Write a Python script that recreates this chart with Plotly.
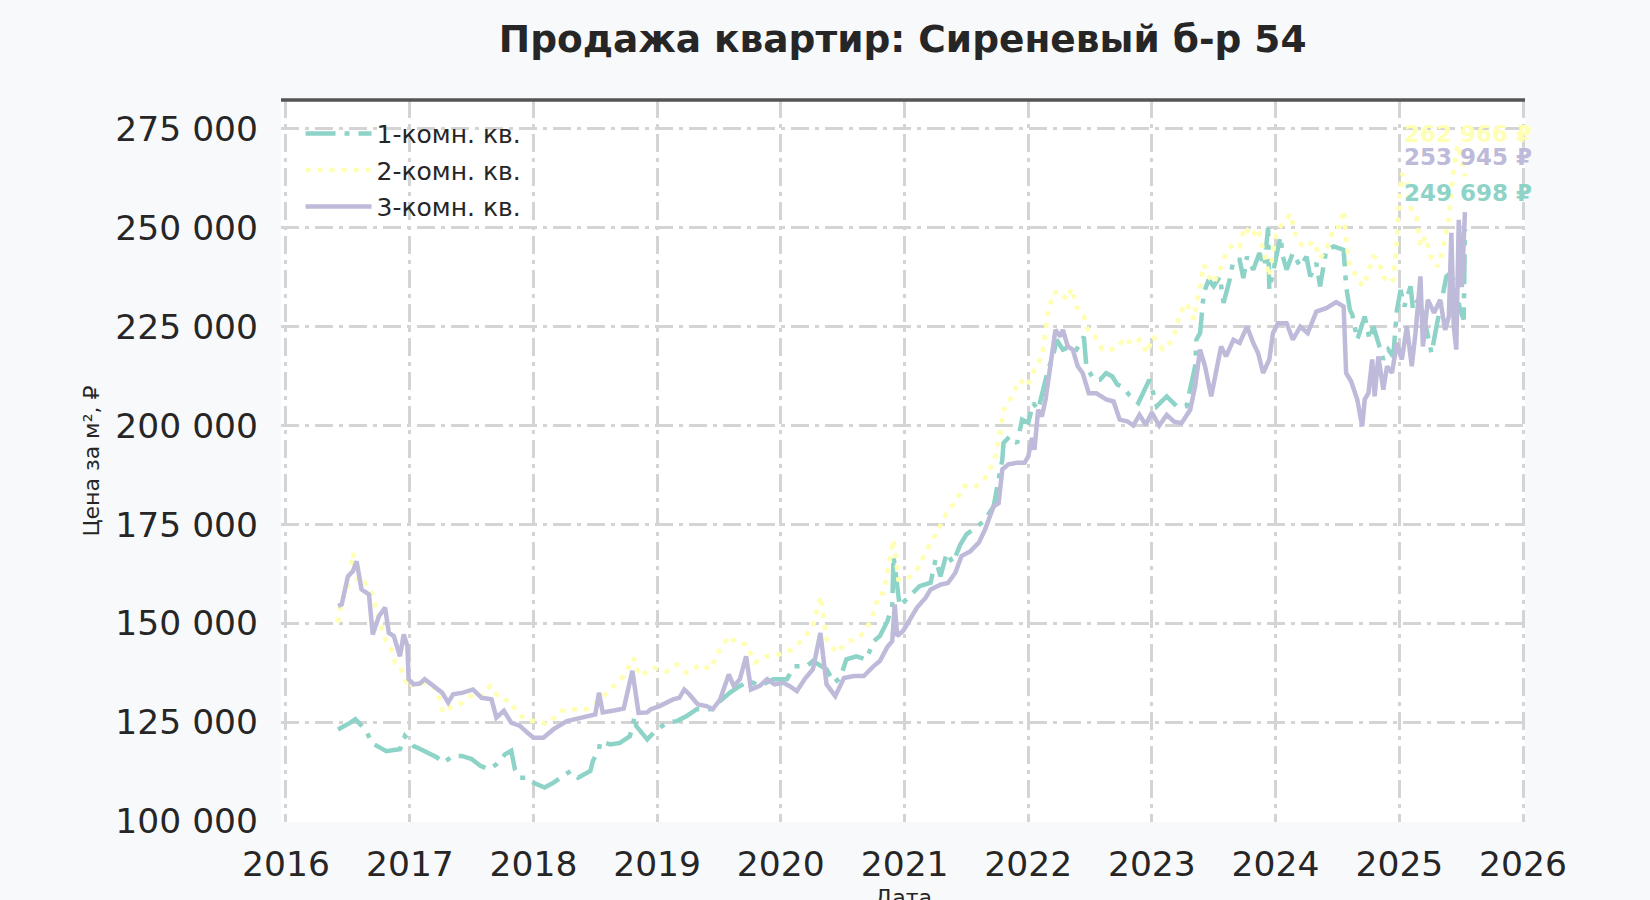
import pandas as pd
import plotly.graph_objects as go

TITLE = "Продажа квартир: Сиреневый б-р 54"
X_TITLE = "Дата"
Y_TITLE = "Цена за м², ₽"
NAMES = ["1-комн. кв.", "2-комн. кв.", "3-комн. кв."]
COLORS = ["#8dd3c7", "#ffffb3", "#bebada"]
Y_TICKS = [100000, 125000, 150000, 175000, 200000, 225000, 250000, 275000]
LAST_LABELS = ["249 698 ₽", "262 966 ₽", "253 945 ₽"]

# ---- 1-комн. кв. (decimal year, ₽ per m²)
t1 = [2016.42, 2016.48, 2016.52, 2016.56, 2016.61, 2016.65, 2016.69, 2016.76, 2016.81, 2016.87,
      2016.92, 2016.96, 2017.00, 2017.03, 2017.08, 2017.14, 2017.22, 2017.27, 2017.35, 2017.42,
      2017.50, 2017.57, 2017.64, 2017.70, 2017.77, 2017.82, 2017.85, 2017.89, 2017.95, 2018.00,
      2018.09, 2018.16, 2018.24, 2018.30, 2018.36, 2018.46, 2018.48, 2018.53, 2018.54, 2018.62,
      2018.70, 2018.78, 2018.82, 2018.83, 2018.92, 2019.00, 2019.08, 2019.16, 2019.24, 2019.32,
      2019.43, 2019.48, 2019.51, 2019.59, 2019.67, 2019.75, 2019.83, 2019.94, 2020.05, 2020.11,
      2020.21, 2020.26, 2020.37, 2020.43, 2020.48, 2020.53, 2020.61, 2020.69, 2020.75, 2020.80,
      2020.86, 2020.90, 2020.91, 2020.94, 2020.96, 2021.04, 2021.12, 2021.21, 2021.25, 2021.29,
      2021.34, 2021.39, 2021.45, 2021.50, 2021.58, 2021.64, 2021.72, 2021.79, 2021.80, 2021.85,
      2021.91, 2021.95, 2022.00, 2022.04, 2022.08, 2022.12, 2022.16, 2022.20, 2022.23, 2022.28,
      2022.34, 2022.39, 2022.45, 2022.47, 2022.53, 2022.58, 2022.63, 2022.68, 2022.72, 2022.77,
      2022.82, 2022.89, 2022.93, 2022.98, 2023.04, 2023.12, 2023.20, 2023.28, 2023.35, 2023.36,
      2023.39, 2023.42, 2023.46, 2023.50, 2023.55, 2023.58, 2023.63, 2023.66, 2023.71, 2023.74,
      2023.77, 2023.82, 2023.87, 2023.91, 2023.94, 2023.95, 2023.99, 2024.02, 2024.04, 2024.06,
      2024.09, 2024.14, 2024.20, 2024.25, 2024.28, 2024.33, 2024.36, 2024.41, 2024.47, 2024.55,
      2024.57, 2024.60, 2024.62, 2024.66, 2024.68, 2024.72, 2024.76, 2024.79, 2024.83, 2024.87,
      2024.91, 2024.95, 2024.98, 2025.01, 2025.04, 2025.09, 2025.11, 2025.15, 2025.19, 2025.26,
      2025.30, 2025.34, 2025.38, 2025.41, 2025.45, 2025.49, 2025.52, 2025.53]
v1 = [123200, 124100, 124900, 125800, 124100, 122800, 119800, 118600, 117700, 118000,
      118200, 121500, 119800, 119000, 118300, 117300, 116100, 114800, 116500, 116500,
      115700, 114000, 113100, 114400, 116900, 117800, 113100, 111000, 111000, 109700,
      108500, 109700, 111400, 112700, 111000, 112700, 115200, 118200, 120200, 119400,
      119800, 121500, 126600, 124100, 120700, 123200, 124900, 125300, 126600, 128300,
      128300, 130000, 130400, 132500, 134200, 135400, 134200, 135900, 135900, 139200,
      139200, 140500, 138400, 135000, 136200, 140900, 141700, 140900, 145500, 146800,
      150500, 154400, 167000, 160300, 154400, 156900, 159400, 160300, 166200, 161900,
      167800, 165300, 169900, 172500, 174500, 175800, 179600, 191400, 195600, 197300,
      195600, 201500, 200700, 205700, 204000, 209100, 214100, 217500, 221700, 219200,
      220000, 219200, 222500, 215000, 211600, 211600, 213300, 212400, 210400, 209700,
      207600, 205700, 208200, 211600, 204900, 207400, 204900, 204900, 215000, 221700,
      223400, 233500, 236900, 235200, 237700, 231000, 236900, 241900, 241900, 237300,
      242700, 239400, 243600, 240200, 250000, 234300, 240200, 244400, 247800, 242700,
      239400, 243600, 240200, 242700, 237700, 241100, 235200, 244400, 245300, 244400,
      235200, 229300, 228000, 221700, 223400, 227600, 221700, 225100, 220900, 216700,
      219200, 217500, 229300, 234300, 230100, 235200, 229300, 231800, 228500, 218300,
      225100, 231800, 237700, 238500, 236000, 229300, 226800, 249698]

# ---- 2-комн. кв.
t2 = [2016.42, 2016.45, 2016.49, 2016.54, 2016.58, 2016.63, 2016.67, 2016.70, 2016.76, 2016.81,
      2016.85, 2016.88, 2016.92, 2016.99, 2017.06, 2017.11, 2017.19, 2017.24, 2017.27, 2017.34,
      2017.43, 2017.51, 2017.58, 2017.65, 2017.73, 2017.81, 2017.87, 2017.95, 2018.03, 2018.11,
      2018.22, 2018.32, 2018.43, 2018.51, 2018.58, 2018.65, 2018.73, 2018.81, 2018.86, 2018.97,
      2019.08, 2019.16, 2019.24, 2019.35, 2019.43, 2019.50, 2019.58, 2019.64, 2019.72, 2019.79,
      2019.89, 2019.99, 2020.09, 2020.18, 2020.26, 2020.32, 2020.37, 2020.45, 2020.53, 2020.64,
      2020.69, 2020.75, 2020.79, 2020.83, 2020.91, 2020.95, 2021.02, 2021.10, 2021.18, 2021.26,
      2021.34, 2021.42, 2021.48, 2021.56, 2021.64, 2021.72, 2021.77, 2021.80, 2021.87, 2021.93,
      2021.99, 2022.05, 2022.11, 2022.16, 2022.20, 2022.26, 2022.31, 2022.35, 2022.39, 2022.45,
      2022.49, 2022.54, 2022.60, 2022.66, 2022.72, 2022.78, 2022.84, 2022.90, 2022.96, 2023.01,
      2023.09, 2023.17, 2023.23, 2023.28, 2023.34, 2023.38, 2023.42, 2023.46, 2023.50, 2023.56,
      2023.60, 2023.66, 2023.71, 2023.75, 2023.81, 2023.86, 2023.90, 2023.95, 2024.00, 2024.04,
      2024.12, 2024.17, 2024.23, 2024.31, 2024.36, 2024.41, 2024.47, 2024.52, 2024.55, 2024.57,
      2024.60, 2024.66, 2024.70, 2024.74, 2024.79, 2024.83, 2024.87, 2024.91, 2024.95, 2024.98,
      2025.00, 2025.02, 2025.06, 2025.09, 2025.14, 2025.17, 2025.21, 2025.26, 2025.31, 2025.35,
      2025.40, 2025.44, 2025.47, 2025.50, 2025.53]
v2 = [150200, 156100, 157700, 167800, 160300, 160500, 159000, 156900, 150200, 145100,
      143400, 140000, 139200, 133700, 135400, 135000, 134200, 130800, 127400, 129100,
      130000, 132100, 131600, 134200, 130800, 130400, 127400, 125300, 125300, 124500,
      127800, 128300, 128300, 130000, 132000, 134200, 136700, 141300, 136700, 138800,
      137900, 139600, 137500, 139600, 138400, 143000, 146800, 145100, 144700, 140100,
      141700, 142200, 143400, 146000, 149300, 156900, 146000, 142600, 145100, 146800,
      148500, 152700, 157300, 157700, 171200, 161100, 161100, 163600, 168700, 172900,
      177900, 181300, 184700, 184200, 186400, 190600, 197300, 204000, 207400, 211600,
      209900, 214100, 217500, 228500, 233500, 233900, 231800, 234700, 230100, 227600,
      223400, 222500, 219200, 219200, 219600, 222200, 220500, 221700, 218300, 222500,
      219200, 221700, 228500, 231000, 226800, 233500, 240700, 237700, 236000, 240200,
      243600, 246100, 245300, 250300, 247800, 249900, 244400, 237700, 247800, 250300,
      253500, 247400, 245000, 246500, 242300, 244400, 250000, 250300, 254500, 246900,
      240200, 237700, 235200, 237700, 242700, 241900, 237700, 236000, 236900, 247000,
      258000, 263800, 261300, 255000, 252500, 245300, 247800, 241900, 240200, 244400,
      252500, 265500, 271000, 268000, 262966]

# ---- 3-комн. кв.
t3 = [2016.42, 2016.45, 2016.50, 2016.54, 2016.57, 2016.61, 2016.67, 2016.70, 2016.75, 2016.80,
      2016.83, 2016.87, 2016.92, 2016.95, 2016.98, 2016.99, 2017.03, 2017.08, 2017.12, 2017.19,
      2017.26, 2017.31, 2017.35, 2017.43, 2017.51, 2017.58, 2017.66, 2017.70, 2017.76, 2017.82,
      2017.89, 2017.95, 2018.00, 2018.08, 2018.16, 2018.27, 2018.35, 2018.43, 2018.50, 2018.53,
      2018.56, 2018.65, 2018.73, 2018.80, 2018.85, 2018.92, 2018.95, 2019.02, 2019.13, 2019.18,
      2019.22, 2019.26, 2019.33, 2019.40, 2019.45, 2019.51, 2019.58, 2019.62, 2019.67, 2019.72,
      2019.76, 2019.83, 2019.89, 2019.95, 2020.02, 2020.07, 2020.13, 2020.20, 2020.26, 2020.32,
      2020.37, 2020.44, 2020.51, 2020.59, 2020.67, 2020.75, 2020.80, 2020.86, 2020.90, 2020.92,
      2020.94, 2020.99, 2021.04, 2021.10, 2021.17, 2021.21, 2021.29, 2021.35, 2021.41, 2021.46,
      2021.53, 2021.60, 2021.65, 2021.72, 2021.76, 2021.79, 2021.84, 2021.91, 2021.97, 2022.00,
      2022.03, 2022.05, 2022.08, 2022.11, 2022.14, 2022.16, 2022.18, 2022.22, 2022.26, 2022.28,
      2022.32, 2022.36, 2022.40, 2022.44, 2022.49, 2022.55, 2022.63, 2022.69, 2022.74, 2022.80,
      2022.85, 2022.90, 2022.95, 2023.00, 2023.06, 2023.12, 2023.18, 2023.24, 2023.31, 2023.35,
      2023.39, 2023.43, 2023.48, 2023.52, 2023.56, 2023.60, 2023.66, 2023.71, 2023.77, 2023.82,
      2023.86, 2023.90, 2023.95, 2023.98, 2024.02, 2024.09, 2024.14, 2024.20, 2024.26, 2024.33,
      2024.41, 2024.49, 2024.55, 2024.57, 2024.61, 2024.66, 2024.70, 2024.72, 2024.75, 2024.78,
      2024.80, 2024.83, 2024.87, 2024.90, 2024.94, 2024.98, 2025.02, 2025.06, 2025.10, 2025.13,
      2025.17, 2025.19, 2025.23, 2025.28, 2025.33, 2025.37, 2025.40, 2025.42, 2025.44, 2025.46,
      2025.48, 2025.505, 2025.53]
v3 = [154400, 154800, 161900, 163200, 165700, 158600, 157300, 147200, 151800, 154000,
      147600, 146800, 141700, 147200, 144300, 135900, 134600, 134800, 135900, 134200,
      132500, 130000, 132100, 132500, 133300, 131200, 130800, 126200, 127900, 124900,
      124100, 122400, 121100, 121100, 123200, 125300, 125800, 126400, 127000, 132500,
      127500, 128000, 128500, 138000, 127400, 127500, 128300, 129100, 130800, 131200,
      133300, 132100, 129500, 129100, 128300, 130800, 137100, 134200, 135900, 141700,
      133300, 134200, 135900, 134600, 135000, 134200, 132900, 136200, 138400, 147600,
      134600, 131600, 136200, 136700, 136700, 139200, 140500, 144000, 145500, 154800,
      146800, 148200, 151000, 154000, 156500, 158600, 159800, 160200, 162800, 167000,
      168200, 170400, 173700, 179600, 180400, 188900, 190200, 190600, 190600, 192200,
      196900, 193900, 204000, 202300, 206600, 210800, 216700, 224200, 222500, 224200,
      220000, 219200, 215000, 213300, 208200, 208200, 206600, 206100, 201500, 201100,
      200000, 202700, 200200, 203300, 200000, 202700, 201000, 200600, 204000, 209900,
      219200, 215000, 207400, 213300, 220000, 217500, 221700, 220900, 225000, 220900,
      218300, 213300, 216700, 223400, 225900, 225900, 221700, 225000, 223400, 228800,
      229700, 231200, 230100, 213300, 211200, 206600, 199800, 206600, 208200, 216700,
      207400, 217500, 209100, 215000, 213300, 220900, 216700, 225100, 215000, 223400,
      237700, 220000, 231800, 228500, 231800, 224200, 227600, 248700, 225000, 219200,
      252000, 235000, 253945]


def to_date(y):
    yr = int(y)
    start = pd.Timestamp(yr, 1, 1)
    days = (pd.Timestamp(yr + 1, 1, 1) - start).days
    return start + pd.Timedelta(days=(y - yr) * days)


series = [(t1, v1), (t2, v2), (t3, v3)]
dashes = ["30px,9px,5px,9px", "5px,7px", "solid"]

FONT = "DejaVu Sans"
TXT = "#262626"

fig = go.Figure()
for i, (t, v) in enumerate(series):
    fig.add_trace(go.Scatter(
        x=[to_date(y) for y in t], y=v, mode="lines", name=NAMES[i],
        legendgroup=f"g{i}",
        line=dict(color=COLORS[i], width=4.5, dash=dashes[i]),
    ))

annots = []
shifts = [36, 42, 55]
for i, (t, v) in enumerate(series):
    annots.append(dict(
        x=to_date(t[-1]), y=v[-1], xref="x", yref="y", text=f"<b>{LAST_LABELS[i]}</b>",
        showarrow=False, xanchor="center", yanchor="middle", yshift=shifts[i], xshift=3,
        font=dict(family=FONT, size=23, color=COLORS[i]),
    ))
annots.append(dict(
    x=0.5, y=-0.084, xref="paper", yref="paper", text=X_TITLE, showarrow=False,
    xanchor="center", yanchor="top", font=dict(family=FONT, size=22, color=TXT),
))

fig.update_layout(
    width=1650, height=900,
    paper_bgcolor="#f8f9fb", plot_bgcolor="#ffffff",
    margin=dict(l=281, r=125, t=100, b=78, autoexpand=False),
    separators=". ",
    font=dict(family=FONT, color=TXT),
    title=dict(text=f"<b>{TITLE}</b>", x=0.5471, xanchor="center", y=0.957, yanchor="middle",
               font=dict(family=FONT, size=37.5, color=TXT)),
    showlegend=True,
    legend=dict(x=0.0157, y=0.985, xanchor="left", yanchor="top", bgcolor="rgba(0,0,0,0)",
                font=dict(family=FONT, size=25, color=TXT), itemwidth=66, tracegroupgap=1),
    annotations=annots,
    shapes=[dict(type="line", xref="paper", yref="paper", x0=0, x1=1, y0=1, y1=1,
                 line=dict(color="#555555", width=3.5), layer="above")],
)
fig.update_xaxes(
    type="date", range=[to_date(2015.96), to_date(2026.016)],
    tickformat="%Y", dtick="M12", tick0="2016-01-01",
    showgrid=True, gridcolor="#d4d4d4", gridwidth=2.5, griddash="18px,6px,4px,6px",
    zeroline=False, showline=False, ticks="",
    tickfont=dict(family=FONT, size=34.5, color=TXT), ticklabelstandoff=18,
)
fig.update_yaxes(
    range=[99800, 282300], tickvals=Y_TICKS, tickformat=",d",
    showgrid=True, gridcolor="#d4d4d4", gridwidth=2.5, griddash="18px,6px,4px,6px",
    zeroline=False, showline=False, ticks="",
    tickfont=dict(family=FONT, size=34.5, color=TXT), ticklabelstandoff=22,
    title=dict(text=Y_TITLE, font=dict(family=FONT, size=22, color=TXT), standoff=9),
)

fig.write_html("out.html", config={"displayModeBar": False},
               post_script="document.body.style.margin='0';document.body.style.overflow='hidden';")
